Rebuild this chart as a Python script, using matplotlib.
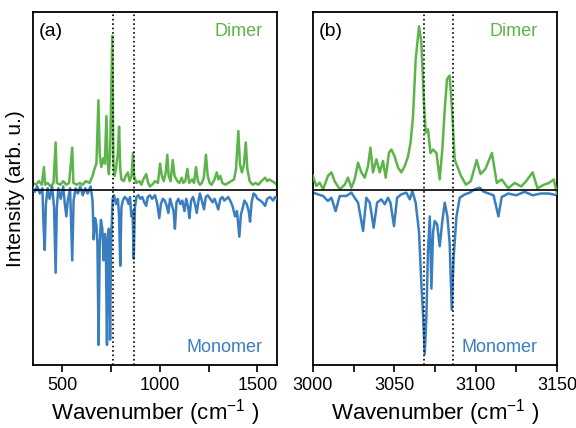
import matplotlib
matplotlib.use("Agg")
import matplotlib.pyplot as plt
from matplotlib.ticker import MultipleLocator

plt.rcParams['font.family'] = ['Liberation Sans', 'DejaVu Sans']
plt.rcParams['mathtext.fontset'] = 'custom'
plt.rcParams['mathtext.rm'] = 'Liberation Sans'
plt.rcParams['mathtext.it'] = 'Liberation Sans:italic'
plt.rcParams['mathtext.default'] = 'regular'
plt.rcParams['axes.unicode_minus'] = False

GREEN = '#5DB44A'
BLUE = '#3A7EBF'

# ---------------- panel (a) data ----------------
a_dimer_wn = [350, 365, 380, 395, 406, 412, 425, 440, 455, 466, 472, 490, 505, 520, 535, 551, 557,
              575, 590, 605, 620, 640, 655, 665, 675, 685, 692, 700, 710, 718, 726, 733, 739, 745,
              756, 762, 768, 775, 784, 791, 797, 803, 815, 825, 836, 845, 855, 862, 868, 880, 895,
              905, 915, 930, 940, 949, 960, 975, 990, 1001, 1010, 1020, 1030, 1038, 1045, 1055,
              1066, 1075, 1090, 1100, 1112, 1120, 1130, 1141, 1150, 1165, 1175, 1185, 1195, 1205,
              1215, 1225, 1236, 1245, 1255, 1265, 1280, 1291, 1300, 1310, 1320, 1335, 1350, 1365,
              1380, 1390, 1402, 1410, 1420, 1430, 1440, 1448, 1460, 1475, 1490, 1505, 1520, 1530,
              1539, 1550, 1560, 1575, 1590, 1600]
a_dimer_int = [0.04, 0.03, 0.05, 0.03, 0.13, 0.03, 0.04, 0.02, 0.04, 0.27, 0.04, 0.03, 0.05, 0.03,
               0.04, 0.24, 0.04, 0.03, 0.04, 0.03, 0.05, 0.04, 0.08, 0.12, 0.15, 0.51, 0.20, 0.13,
               0.18, 0.15, 0.42, 0.15, 0.09, 0.20, 0.875, 0.15, 0.08, 0.12, 0.20, 0.36, 0.12, 0.06,
               0.05, 0.08, 0.10, 0.05, 0.08, 0.21, 0.08, 0.04, 0.05, 0.03, 0.06, 0.09, 0.04, 0.02,
               0.03, 0.05, 0.04, 0.15, 0.08, 0.05, 0.10, 0.20, 0.08, 0.05, 0.17, 0.08, 0.05, 0.04,
               0.07, 0.04, 0.05, 0.12, 0.04, 0.06, 0.04, 0.13, 0.05, 0.03, 0.04, 0.07, 0.20, 0.08,
               0.04, 0.03, 0.06, 0.10, 0.06, 0.08, 0.04, 0.03, 0.04, 0.05, 0.06, 0.12, 0.335, 0.15,
               0.10, 0.14, 0.27, 0.12, 0.05, 0.03, 0.04, 0.03, 0.05, 0.06, 0.07, 0.05, 0.06, 0.05,
               0.04, 0.03]

a_mono_wn = [350, 360, 372, 385, 398, 404, 410, 416, 425, 435, 448, 458, 466, 472, 480, 492, 505,
             513, 521, 528, 540, 551, 558, 568, 580, 592, 605, 618, 630, 645, 655, 661, 668, 675,
             680, 686, 692, 698, 705, 712, 718, 723, 729, 734, 739, 745, 750, 758, 765, 775, 785,
             791, 797, 803, 810, 820, 830, 840, 847, 854, 860, 866, 872, 880, 890, 900, 910, 920,
             930, 938, 949, 960, 975, 985, 997, 1005, 1015, 1025, 1035, 1043, 1052, 1060, 1070,
             1077, 1085, 1095, 1105, 1115, 1126, 1135, 1145, 1151, 1160, 1170, 1180, 1189, 1198,
             1205, 1215, 1226, 1235, 1245, 1258, 1270, 1280, 1290, 1299, 1310, 1320, 1330, 1340,
             1350, 1360, 1372, 1385, 1395, 1407, 1415, 1425, 1433, 1445, 1455, 1462, 1470, 1480,
             1490, 1500, 1515, 1525, 1539, 1550, 1565, 1580, 1590, 1600]
a_mono_int = [0.01, -0.01, 0.02, -0.02, 0.01, -0.20, -0.34, -0.08, 0.01, -0.05, 0.02, -0.10, -0.47,
              -0.10, 0.01, -0.05, 0.02, -0.08, -0.15, -0.06, 0.01, -0.40, -0.06, 0.01, -0.02, 0.02,
              -0.03, 0.01, -0.02, 0.02, -0.06, -0.28, -0.16, -0.20, -0.30, -0.88, -0.30, -0.17,
              -0.22, -0.40, -0.25, -0.30, -0.88, -0.25, -0.22, -0.85, -0.30, -0.05, -0.03, -0.08,
              -0.05, -0.15, -0.43, -0.10, -0.06, -0.04, -0.05, -0.08, -0.04, -0.15, -0.12, -0.39,
              -0.10, -0.04, -0.03, -0.05, -0.04, -0.07, -0.09, -0.04, -0.03, -0.05, -0.03, -0.07,
              -0.16, -0.08, -0.05, -0.06, -0.09, -0.13, -0.05, -0.08, -0.12, -0.22, -0.07, -0.05,
              -0.08, -0.06, -0.12, -0.05, -0.10, -0.16, -0.06, -0.04, -0.08, -0.13, -0.06, -0.02,
              -0.06, -0.11, -0.04, -0.03, -0.05, -0.07, -0.05, -0.08, -0.11, -0.05, -0.04, -0.06,
              -0.05, -0.04, -0.06, -0.09, -0.15, -0.12, -0.265, -0.14, -0.10, -0.06, -0.08, -0.12,
              -0.18, -0.07, -0.02, -0.03, -0.05, -0.06, -0.07, -0.09, -0.05, -0.04, -0.06, -0.04,
              -0.05]

# ---------------- panel (b) data ----------------
b_dimer_wn = [3000, 3002, 3004.1, 3006.2, 3009.2, 3011.3, 3013.3, 3016.4, 3019.5, 3021.5, 3023.6,
              3025.6, 3027.7, 3029.7, 3031.8, 3033.8, 3035.3, 3036.9, 3039, 3041, 3043, 3044.7,
              3046.7, 3048.2, 3050.2, 3052.3, 3054.3, 3056.4, 3058.4, 3060, 3061.5, 3063.1, 3065.2,
              3066.6, 3068.1, 3069.3, 3070.7, 3072.2, 3073.8, 3075.9, 3077.9, 3079.5, 3081, 3082.4,
              3084, 3085.7, 3087.1, 3088, 3091, 3094, 3097, 3100.6, 3103, 3106, 3110, 3113, 3116,
              3120, 3124, 3128, 3131, 3135, 3138, 3142, 3145, 3148, 3150]
b_dimer_int = [0.08, 0.023, 0.042, 0.004, 0.08, 0.10, 0.05, 0.004, 0.03, 0.07, 0.013, 0.06, 0.155,
               0.10, 0.07, 0.136, 0.24, 0.10, 0.174, 0.10, 0.165, 0.07, 0.21, 0.23, 0.19, 0.127,
               0.10, 0.136, 0.19, 0.27, 0.42, 0.74, 0.93, 0.84, 0.515, 0.325, 0.345, 0.21, 0.23,
               0.21, 0.06, 0.23, 0.46, 0.63, 0.65, 0.42, 0.174, 0.15, 0.08, 0.03, 0.05, 0.17, 0.09,
               0.12, 0.21, 0.04, 0.06, 0.01, 0.04, 0.02, 0.05, 0.10, 0.01, 0.03, 0.04, 0.06, -0.02]

b_mono_wn = [3000, 3003.1, 3006.2, 3009.2, 3011.3, 3013.9, 3016.4, 3020.5, 3023.6, 3025.6, 3027.7,
             3030.8, 3032.8, 3034.9, 3037.3, 3039.4, 3042, 3044.1, 3046.1, 3047.6, 3049.8, 3051.7,
             3054.3, 3057.4, 3059.5, 3061.1, 3063.1, 3065.2, 3066.6, 3067.7, 3068.7, 3069.7,
             3070.7, 3071.8, 3072.8, 3073.8, 3074.8, 3076.3, 3077.9, 3079.5, 3081, 3082.6, 3084,
             3085.3, 3086.5, 3088.2, 3090.2, 3093.3, 3096.4, 3099.4, 3102.5, 3105, 3108, 3111,
             3114, 3116, 3120, 3125, 3130, 3135, 3140, 3145, 3150]
b_mono_int = [-0.015, -0.025, -0.034, -0.0625, -0.044, -0.12, -0.034, -0.034, -0.015, -0.044,
              -0.072, -0.233, -0.044, -0.072, -0.214, -0.072, -0.053, -0.081, -0.044, -0.072,
              -0.205, -0.044, -0.025, -0.015, -0.053, -0.006, -0.072, -0.24, -0.53, -0.72, -0.93,
              -0.72, -0.34, -0.15, -0.56, -0.24, -0.176, -0.195, -0.32, -0.176, -0.072, -0.15,
              -0.30, -0.68, -0.375, -0.15, -0.044, -0.025, -0.015, 0.004, 0.013, -0.01, -0.02,
              -0.03, -0.15, -0.04, -0.02, -0.03, -0.01, -0.03, -0.02, -0.02, -0.03]

a_marks = [761, 867]
b_marks = [3068, 3086]

fig = plt.figure(figsize=(5.76, 4.28), dpi=100)
axA = fig.add_axes([33 / 576, 1 - 365 / 428, 244 / 576, 353 / 428])
axB = fig.add_axes([313 / 576, 1 - 365 / 428, 244 / 576, 353 / 428])


def style(ax, xlim, major, minor):
    ax.set_xlim(*xlim)
    ax.set_ylim(-0.994, 1.011)
    ax.set_yticks([])
    ax.xaxis.set_major_locator(MultipleLocator(major))
    ax.xaxis.set_minor_locator(MultipleLocator(minor))
    ax.tick_params(axis='x', which='both', direction='out', length=5, width=1.2,
                   labelsize=13, pad=4)
    for s in ax.spines.values():
        s.set_linewidth(1.3)
    ax.axhline(0, color='black', lw=1.2, zorder=4)
    ax.set_xlabel('Wavenumber (cm$^{-1}$ )', fontsize=16, labelpad=2)


axA.plot(a_dimer_wn, a_dimer_int, color=GREEN, lw=1.8, zorder=2)
axA.plot(a_mono_wn, a_mono_int, color=BLUE, lw=1.8, zorder=3)
for m in a_marks:
    axA.axvline(m, color='black', ls=':', lw=1.2, zorder=5)
style(axA, (350, 1600), 500, 250)

axB.plot(b_mono_wn, b_mono_int, color=BLUE, lw=1.8, zorder=2)
axB.plot(b_dimer_wn, b_dimer_int, color=GREEN, lw=1.8, zorder=3)
for m in b_marks:
    axB.axvline(m, color='black', ls=':', lw=1.2, zorder=5)
style(axB, (3000, 3150), 50, 25)

axA.set_ylabel('Intensity (arb. u.)', fontsize=15, labelpad=6)

for ax, lab, xr in [(axA, '(a)', 0.94), (axB, '(b)', 0.92)]:
    ax.text(0.025, 0.945, lab, transform=ax.transAxes, fontsize=14, ha='left', va='center')
    ax.text(xr, 0.945, 'Dimer', transform=ax.transAxes, fontsize=13, ha='right',
            va='center', color=GREEN)
    ax.text(xr, 0.05, 'Monomer', transform=ax.transAxes, fontsize=13, ha='right',
            va='center', color=BLUE)

fig.savefig('out.png', dpi=100)
